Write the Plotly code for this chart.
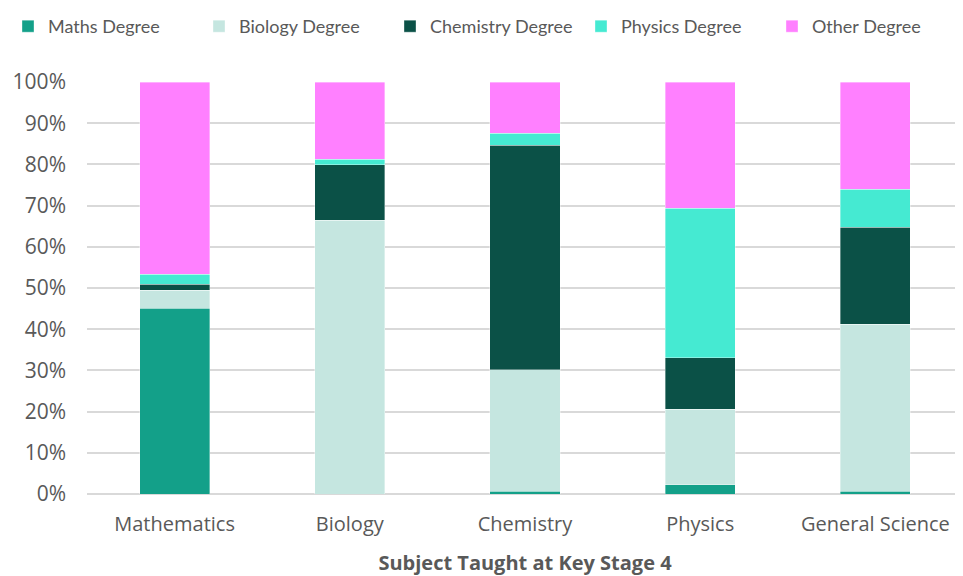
import plotly.graph_objects as go

categories = ["Mathematics", "Biology", "Chemistry", "Physics", "General Science"]
series_names = ["Maths Degree", "Biology Degree", "Chemistry Degree", "Physics Degree", "Other Degree"]
maths_deg = [45.1, 0.0, 0.7, 2.2, 0.7]
biology_deg = [4.3, 66.4, 29.5, 18.4, 40.5]
chemistry_deg = [1.5, 13.5, 54.4, 12.5, 23.6]
physics_deg = [2.4, 1.4, 3.0, 36.2, 9.2]
other_deg = [46.7, 18.7, 12.4, 30.7, 26.0]
colors = ["#13a089", "#c5e6e0", "#0b5147", "#45ead2", "#ff80ff"]

fig = go.Figure()
for name, vals, col in zip(series_names,
                           [maths_deg, biology_deg, chemistry_deg, physics_deg, other_deg],
                           colors):
    fig.add_trace(go.Bar(x=categories, y=vals, name=name, marker_color=col,
                         marker_line_width=0.6, marker_line_color="rgba(255,255,255,0.6)",
                         width=0.4))

tick_font = "'Open Sans', sans-serif"
fig.update_layout(
    barmode="stack",
    width=955, height=568,
    margin=dict(l=79, r=0, t=72, b=82),
    plot_bgcolor="white", paper_bgcolor="white",
    font=dict(family=tick_font, size=18, color="#595959"),
    legend=dict(orientation="h", xref="paper", yref="paper",
                x=-0.052, xanchor="left", y=1.135, yanchor="middle",
                font=dict(family="Lato, sans-serif", size=18, color="#595959"),
                traceorder="normal", itemwidth=30, entrywidth=146, entrywidthmode="pixels"),
    xaxis=dict(title=dict(text="<b>Subject Taught at Key Stage 4</b>", standoff=20,
                          font=dict(family=tick_font, size=20, color="#595959")),
               tickfont=dict(size=20, color="#595959"), showline=False, ticks="",
               ticklabelstandoff=16),
    yaxis=dict(range=[0, 100], dtick=10, ticksuffix="%", showgrid=True,
               gridcolor="#d9d9d9", gridwidth=1.5, zeroline=True, zerolinecolor="#d9d9d9",
               zerolinewidth=1.5, tickfont=dict(size=21, color="#595959"), ticklen=0,
               ticklabelstandoff=20),
    bargap=0.6,
)
fig.write_html("out.html")
